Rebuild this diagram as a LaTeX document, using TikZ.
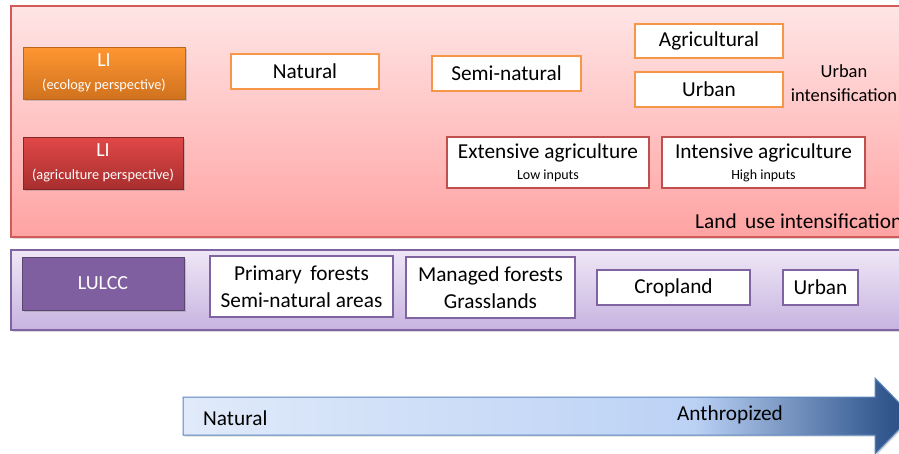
\documentclass[tikz,border=0pt]{standalone}
\usepackage{fontspec}
\setmainfont{Carlito}
\usetikzlibrary{shadows}
\definecolor{pinkT}{HTML}{FFE5E5}
\definecolor{pinkB}{HTML}{FFA3A3}
\definecolor{pinkD}{HTML}{D45A5A}
\definecolor{orT}{HTML}{FF9632}
\definecolor{orB}{HTML}{D0721E}
\definecolor{orD}{HTML}{F79646}
\definecolor{rdT}{HTML}{E24848}
\definecolor{rdB}{HTML}{A82E2E}
\definecolor{rdD}{HTML}{C0504D}
\definecolor{puT}{HTML}{EEE7F6}
\definecolor{puB}{HTML}{C8B3E1}
\definecolor{puD}{HTML}{8064A2}
\definecolor{puF}{HTML}{7F5F9F}
\definecolor{arA}{HTML}{E0EAFA}
\definecolor{arB}{HTML}{BCD2F5}
\definecolor{arC}{HTML}{34598F}
\definecolor{arE}{HTML}{2A4C80}
\definecolor{arD}{HTML}{5B86C0}
\pgfdeclarehorizontalshading{arrowshade}{100bp}{color(0bp)=(arA); color(25bp)=(arA); color(60bp)=(arB); color(73bp)=(arC); color(75bp)=(arE); color(100bp)=(arE)}
\tikzset{
  mainfont/.style={font=\fontsize{21.3}{27}\selectfont},
  whitebox/.style={draw, fill=white, line width=1.6pt, inner sep=0pt, align=center, mainfont, text=black},
  orbox/.style={whitebox, draw=orD},
  rdbox/.style={whitebox, draw=rdD},
  pubox/.style={whitebox, draw=puD},
  libox/.style={inner sep=0pt, align=center, text=white, font=\fontsize{20}{22}\selectfont,
     drop shadow={opacity=0.35, shadow xshift=1.5pt, shadow yshift=-1.5pt}},
  panelshadow/.style={drop shadow={opacity=0.3, shadow xshift=1.5pt, shadow yshift=-1.5pt}},
  plaintext/.style={inner sep=0pt, align=center, text=black}
}
\begin{document}
\begin{tikzpicture}[x=1pt,y=-1pt]
\useasboundingbox (0,0) rectangle (899,453);
\clip (0,0) rectangle (899,453);
% pink panel
\draw[pinkD, line width=1.2pt, top color=pinkT, bottom color=pinkB, panelshadow] (11,6) rectangle (920,237);
% purple panel
\draw[puD, line width=1.4pt, top color=puT, bottom color=puB, panelshadow] (11,250) rectangle (920,330);

% LI boxes
\node[libox, minimum width=162pt, minimum height=52pt, top color=orT, bottom color=orB, draw=orB!90!black, line width=0.6pt] (li1) at (104,73)
  {LI\\[1pt]{\fontsize{14.3}{15}\selectfont (ecology perspective)}};
\node[libox, minimum width=160pt, minimum height=52pt, top color=rdT, bottom color=rdB, draw=rdB!80!black, line width=0.6pt] (li2) at (103,163)
  {LI\\[1pt]{\fontsize{14.3}{15}\selectfont (agriculture perspective)}};

% ecology row
\node[orbox, minimum width=148pt, minimum height=35pt] (nat) at (305,71.5) {Natural};
\node[orbox, minimum width=149pt, minimum height=35pt] (semi) at (506.5,73.5) {Semi-natural};
\node[orbox, minimum width=148pt, minimum height=34pt] (agri) at (709,41) {Agricultural};
\node[orbox, minimum width=148pt, minimum height=35pt] (urb) at (709,89.5) {Urban};
\node[plaintext, font=\fontsize{18.5}{23.5}\selectfont] (uint) at (844,83) {Urban\\intensification};

% agriculture row
\node[rdbox, minimum width=202pt, minimum height=51pt] (ext) at (548,162.5)
  {Extensive agriculture\\[-6pt]{\fontsize{14}{15}\selectfont Low inputs}};
\node[rdbox, minimum width=203pt, minimum height=51pt] (int) at (763.5,162.5)
  {Intensive agriculture\\[-6pt]{\fontsize{14}{15}\selectfont High inputs}};
\node[plaintext, anchor=west, font=\fontsize{21.3}{24}\selectfont] (luint) at (695,221) {Land\, use intensification};

% LULCC row
\node[libox, minimum width=162pt, minimum height=53pt, fill=puF, draw=puD!70!black, line width=1pt] (lulcc) at (103,283.5) {LULCC};
\node[pubox, minimum width=183pt, minimum height=61pt] (prim) at (301.5,286.5) {Primary\, forests\\Semi-natural areas};
\node[pubox, minimum width=169pt, minimum height=61pt] (man) at (490.5,287.5) {Managed forests\\Grasslands};
\node[pubox, minimum width=153pt, minimum height=35pt] (crop) at (673.5,287.5) {Cropland};
\node[pubox, minimum width=75pt, minimum height=35pt] (urb2) at (820.5,287.5) {Urban};

% arrow
\draw[arD, line width=1pt, shading=arrowshade, drop shadow={opacity=0.3, shadow xshift=1.5pt, shadow yshift=-1.5pt}]
  (183,397) -- (875,397) -- (875,378) -- (912,416) -- (875,454) -- (875,435) -- (183,435) -- cycle;
\node[plaintext, anchor=west, mainfont] (anat) at (203,418) {Natural};
\node[plaintext, mainfont] (anth) at (730,415) {Anthropized};
\end{tikzpicture}
\end{document}
